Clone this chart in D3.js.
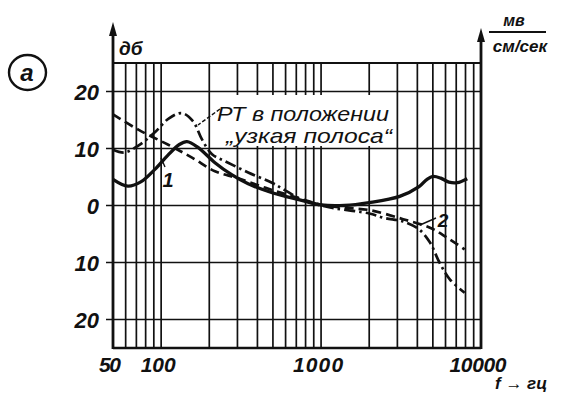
<!DOCTYPE html>
<html>
<head>
<meta charset="utf-8">
<script src="https://cdn.jsdelivr.net/npm/d3@7"></script>
<style>
  body { margin: 0; background: #fff; }
  text { font-family: "Liberation Sans", "DejaVu Sans", sans-serif; font-style: italic; fill: #111; }
</style>
</head>
<body>
<script>
// частоты (гц) и уровни (дб)
let freq1 = [50, 62, 75, 91, 110, 130, 145, 170, 217, 276, 350, 500, 735, 1000, 1400, 2000, 3100, 4100, 4600, 5000, 5600, 6300, 7100, 8200];
let db1   = [4.6, 3.4, 4.2, 6.3, 8.8, 10.7, 11.2, 10.2, 7.5, 5.4, 3.8, 2.2, 1.0, 0.1, 0.0, 0.5, 1.6, 3.3, 4.6, 5.1, 4.8, 4.1, 4.0, 4.7];

let freq2 = [50, 72, 110, 156, 217, 300, 450, 650, 850, 1000, 1400, 2000, 3260, 4800, 6100, 7900];
let db2   = [16.0, 13.3, 10.7, 8.4, 6.0, 4.8, 3.1, 1.7, 0.7, 0.1, -0.4, -0.8, -2.4, -3.9, -5.6, -7.7];

// РТ в положении "узкая полоса"
let freqRT = [50, 59, 72, 91, 112, 135, 158, 180, 208, 250, 350, 493, 577, 761, 1000, 1220, 2000, 2500, 3260, 4100, 4800, 5500, 6400, 7900];
let dbRT   = [9.8, 9.3, 10.5, 12.8, 15.3, 16.2, 14.8, 11.6, 9.0, 7.8, 5.8, 4.0, 2.9, 1.0, 0.0, -0.5, -1.4, -2.2, -2.8, -4.2, -6.5, -10, -13, -15.3];

let gridFreq = [60, 70, 80, 90, 100, 200, 300, 400, 500, 600, 700, 800, 900, 1000,
                2000, 3000, 4000, 5000, 6000, 7000, 8000, 9000];
let gridDb = [-20, -10, 0, 10, 20];
let xTicks = [50, 100, 1000, 10000];
let xTickLabels = ["50", "100", "1000", "10000"];
let yTickLabels = ["20", "10", "0", "10", "20"]; // для 20,10,0,-10,-20

const width = 567, height = 397;
const svg = d3.select("body").append("svg")
  .attr("width", width)
  .attr("height", height);

const x = d3.scaleLog().domain([50, 10000]).range([113, 481]);
const y = d3.scaleLinear().domain([-25, 25]).range([348, 63]);

// белый фон
svg.append("rect").attr("width", width).attr("height", height).attr("fill", "#fff");

// сетка
svg.selectAll(".vgrid").data(gridFreq).enter().append("line")
  .attr("x1", d => x(d)).attr("x2", d => x(d))
  .attr("y1", y(25)).attr("y2", y(-25))
  .attr("stroke", "#111").attr("stroke-width", 1.7);

svg.selectAll(".hgrid").data(gridDb).enter().append("line")
  .attr("x1", x(50) - 7).attr("x2", x(10000))
  .attr("y1", d => y(d)).attr("y2", d => y(d))
  .attr("stroke", "#111").attr("stroke-width", 1.7);

// белая подложка под надпись
svg.append("rect")
  .attr("x", 211).attr("y", 95).attr("width", 180).attr("height", 51)
  .attr("fill", "#fff");

// рамка
svg.append("line").attr("x1", x(50)).attr("x2", x(10000)).attr("y1", y(25)).attr("y2", y(25))
  .attr("stroke", "#111").attr("stroke-width", 2.2);
svg.append("line").attr("x1", x(50)).attr("x2", x(10000)).attr("y1", y(-25)).attr("y2", y(-25))
  .attr("stroke", "#111").attr("stroke-width", 2.5);
svg.append("line").attr("x1", x(50)).attr("x2", x(50)).attr("y1", y(-25) + 1).attr("y2", 30)
  .attr("stroke", "#111").attr("stroke-width", 2.8);
svg.append("line").attr("x1", x(10000)).attr("x2", x(10000)).attr("y1", y(-25) + 1).attr("y2", 36)
  .attr("stroke", "#111").attr("stroke-width", 2.8);

// стрелки осей
svg.append("path")
  .attr("d", `M${x(50)},22 L${x(50) - 4},36 L${x(50) + 4},36 Z`).attr("fill", "#111");
svg.append("path")
  .attr("d", `M${x(10000)},28 L${x(10000) - 4},42 L${x(10000) + 4},42 Z`).attr("fill", "#111");

// подписи осей
svg.selectAll(".ylab").data(gridDb.slice().reverse()).enter().append("text")
  .attr("x", 99).attr("y", d => y(d) + 8)
  .attr("text-anchor", "end")
  .attr("font-size", 22)
  .attr("font-weight", "bold")
  .text((d, i) => yTickLabels[i]);

svg.selectAll(".xlab").data(xTicks).enter().append("text")
  .attr("x", d => x(d) - 3).attr("y", 372)
  .attr("text-anchor", "middle")
  .attr("font-size", 21)
  .attr("font-weight", "bold")
  .attr("textLength", (d, i) => [22, 35, 50, 57][i])
  .text((d, i) => xTickLabels[i]);

svg.append("text").attr("x", 119).attr("y", 55).attr("font-size", 19).attr("font-weight", "bold").text("дб");

svg.append("text").attr("x", 514).attr("y", 26).attr("text-anchor", "middle")
  .attr("font-size", 16).attr("font-weight", "bold").text("мв");
svg.append("line").attr("x1", 489).attr("x2", 546).attr("y1", 32).attr("y2", 32)
  .attr("stroke", "#111").attr("stroke-width", 1.8);
svg.append("text").attr("x", 520).attr("y", 52).attr("text-anchor", "middle")
  .attr("font-size", 17).attr("font-weight", "bold").text("см/сек");

svg.append("text").attr("x", 495).attr("y", 389)
  .attr("font-size", 17).attr("font-weight", "bold").text("f → гц");

// кружок "а"
svg.append("ellipse").attr("cx", 27.5).attr("cy", 72.5).attr("rx", 18.5).attr("ry", 17.5)
  .attr("fill", "none").attr("stroke", "#111").attr("stroke-width", 2.4);
svg.append("text").attr("x", 27).attr("y", 81).attr("text-anchor", "middle")
  .attr("font-size", 24).attr("font-weight", "bold").text("a");

// кривые
const line = d3.line()
  .x(d => x(d[0]))
  .y(d => y(d[1]))
  .curve(d3.curveCatmullRom.alpha(0.5));

svg.append("path").datum(d3.zip(freq2, db2))
  .attr("d", line).attr("fill", "none")
  .attr("stroke", "#111").attr("stroke-width", 2.7)
  .attr("stroke-dasharray", "9,5");

svg.append("path").datum(d3.zip(freqRT, dbRT))
  .attr("d", line).attr("fill", "none")
  .attr("stroke", "#111").attr("stroke-width", 2.7)
  .attr("stroke-dasharray", "11,4,2.5,4");

svg.append("path").datum(d3.zip(freq1, db1))
  .attr("d", line).attr("fill", "none")
  .attr("stroke", "#111").attr("stroke-width", 3.3);

// номера кривых и выноски
svg.append("text").attr("x", 168).attr("y", 187).attr("text-anchor", "middle")
  .attr("font-size", 20).attr("font-weight", "bold").text("1");
svg.append("line").attr("x1", 165).attr("y1", 167).attr("x2", 161).attr("y2", 158)
  .attr("stroke", "#111").attr("stroke-width", 1.4);

svg.append("text").attr("x", 443).attr("y", 227).attr("text-anchor", "middle")
  .attr("font-size", 19).attr("font-weight", "bold").text("2");
svg.append("line").attr("x1", 420).attr("y1", 225).attr("x2", 436).attr("y2", 218)
  .attr("stroke", "#111").attr("stroke-width", 1.4);

svg.append("line").attr("x1", 220).attr("y1", 109).attr("x2", 198).attr("y2", 125)
  .attr("stroke", "#111").attr("stroke-width", 1.4).attr("stroke-dasharray", "4,2");

svg.append("text").attr("x", 217).attr("y", 121).attr("font-size", 21)
  .attr("textLength", 172).attr("lengthAdjust", "spacingAndGlyphs").text("РТ в положении");
svg.append("text").attr("x", 226).attr("y", 143).attr("font-size", 21)
  .attr("textLength", 166).attr("lengthAdjust", "spacingAndGlyphs").text("„узкая полоса“");
</script>
</body>
</html>
